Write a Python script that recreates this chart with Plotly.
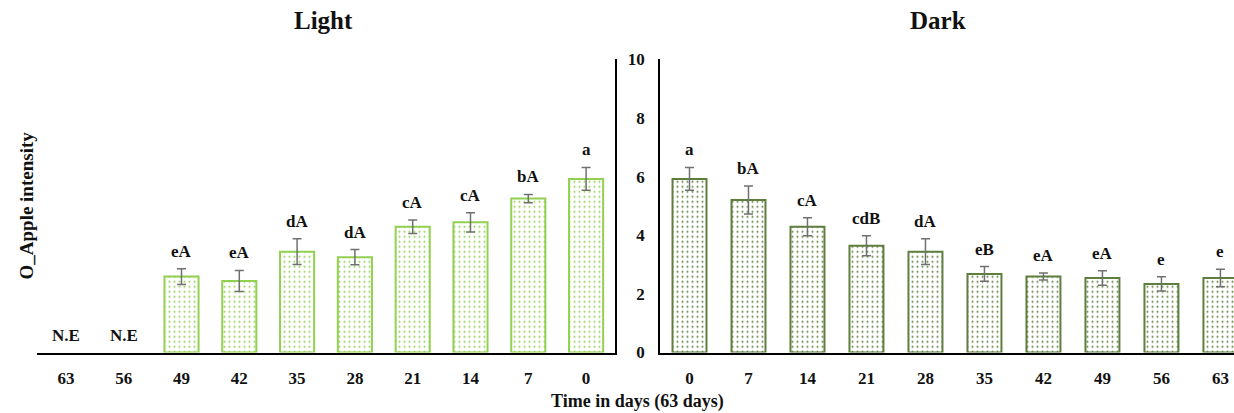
import plotly.graph_objects as go

# ---- data ----
light_days = ["63", "56", "49", "42", "35", "28", "21", "14", "7", "0"]
light_vals = [0, 0, 2.59, 2.44, 3.44, 3.25, 4.29, 4.44, 5.25, 5.92]
light_err = [0, 0, 0.27, 0.36, 0.44, 0.26, 0.23, 0.33, 0.14, 0.39]
light_labels = ["N.E", "N.E", "eA", "eA", "dA", "dA", "cA", "cA", "bA", "a"]

dark_days = ["0", "7", "14", "21", "28", "35", "42", "49", "56", "63"]
dark_vals = [5.92, 5.20, 4.29, 3.64, 3.44, 2.68, 2.59, 2.54, 2.34, 2.54]
dark_err = [0.39, 0.48, 0.31, 0.34, 0.44, 0.25, 0.12, 0.25, 0.24, 0.30]
dark_labels = ["a", "bA", "cA", "cdB", "dA", "eB", "eA", "eA", "e", "e"]

y_ticks = [0, 2, 4, 6, 8, 10]

W, H = 1234, 413
FONT = "Liberation Serif"
TXT = "#111111"
LIGHT = "#92D050"
DARK = "#5E7E3E"
ERR = "#707070"

def px_x(p):
    return p / W

def px_y(p):
    return 1 - p / H

y_dom = [px_y(352.5), px_y(59.3)]

fig = go.Figure()

fig.add_trace(go.Bar(
    x=light_days, y=light_vals, width=[0.59] * len(light_days),
    marker=dict(color="white",
                opacity=[1 if v > 0 else 0 for v in light_vals],
                line=dict(color=LIGHT, width=[2 if v > 0 else 0 for v in light_vals]),
                pattern=dict(shape=".", fgcolor=LIGHT, bgcolor="white", size=5, solidity=0.13)),
    xaxis="x", yaxis="y", showlegend=False, hoverinfo="skip"))

# error bars only where a value was measured
mask = [v > 0 for v in light_vals]
fig.add_trace(go.Scatter(
    x=[d for d, m in zip(light_days, mask) if m],
    y=[v for v, m in zip(light_vals, mask) if m],
    mode="markers", marker=dict(size=1, color="rgba(0,0,0,0)"),
    error_y=dict(type="data", array=[e for e, m in zip(light_err, mask) if m],
                 visible=True, color=ERR, thickness=1.5, width=4.5),
    xaxis="x", yaxis="y", showlegend=False, hoverinfo="skip"))

fig.add_trace(go.Bar(
    x=dark_days, y=dark_vals, width=[0.576] * len(dark_days),
    marker=dict(color="white", line=dict(color=DARK, width=2),
                pattern=dict(shape=".", fgcolor=DARK, bgcolor="white", size=5, solidity=0.13)),
    error_y=dict(type="data", array=dark_err, visible=True, color=ERR, thickness=1.5, width=4.5),
    xaxis="x2", yaxis="y2", showlegend=False, hoverinfo="skip"))

annotations = []
for i, (v, e, t) in enumerate(zip(light_vals, light_err, light_labels)):
    annotations.append(dict(x=i, y=v + e, xref="x", yref="y", text=t, showarrow=False,
                            yanchor="bottom", yshift=6,
                            font=dict(family=FONT, size=17, color=TXT, weight="bold")))
for i, (v, e, t) in enumerate(zip(dark_vals, dark_err, dark_labels)):
    annotations.append(dict(x=i, y=v + e, xref="x2", yref="y2", text=t, showarrow=False,
                            yanchor="bottom", yshift=6,
                            font=dict(family=FONT, size=17, color=TXT, weight="bold")))

annotations += [
    dict(x=px_x(323), y=px_y(21), xref="paper", yref="paper", text="Light", showarrow=False,
         xanchor="center", yanchor="middle", font=dict(family=FONT, size=25, color=TXT, weight="bold")),
    dict(x=px_x(938), y=px_y(21), xref="paper", yref="paper", text="Dark", showarrow=False,
         xanchor="center", yanchor="middle", font=dict(family=FONT, size=25, color=TXT, weight="bold")),
    dict(x=px_x(26), y=px_y(205.5), xref="paper", yref="paper", text="O_Apple intensity", showarrow=False,
         textangle=-90, xanchor="center", yanchor="middle",
         font=dict(family=FONT, size=19, color=TXT, weight="bold")),
    dict(x=px_x(637), y=px_y(401), xref="paper", yref="paper", text="Time in days (63 days)", showarrow=False,
         xanchor="center", yanchor="middle", font=dict(family=FONT, size=18, color=TXT, weight="bold")),
]

tickfont = dict(family=FONT, size=17, color=TXT, weight="bold")

fig.update_layout(
    template="none",
    width=W, height=H, margin=dict(l=0, r=0, t=0, b=0, pad=0, autoexpand=False),
    paper_bgcolor="white", plot_bgcolor="white",
    annotations=annotations,
    xaxis=dict(domain=[px_x(37), px_x(615)], type="category", range=[-0.5, 9.5], automargin=False,
               categoryorder="array", categoryarray=light_days,
               showline=True, linecolor="black", linewidth=1.5, showgrid=False, zeroline=False,
               ticks="outside", ticklen=9, tickcolor="rgba(0,0,0,0)", tickfont=tickfont,
               anchor="y"),
    yaxis=dict(domain=y_dom, range=[0, 10], side="right", anchor="x", automargin=False,
               showline=True, linecolor="black", linewidth=1.5, showgrid=False, zeroline=False,
               showticklabels=False, ticks=""),
    xaxis2=dict(domain=[px_x(660), 1.0], type="category", range=[-0.5, 9.23], automargin=False,
                categoryorder="array", categoryarray=dark_days,
                showline=True, linecolor="black", linewidth=1.5, showgrid=False, zeroline=False,
                ticks="outside", ticklen=9, tickcolor="rgba(0,0,0,0)", tickfont=tickfont,
                anchor="y2"),
    yaxis2=dict(domain=y_dom, range=[0, 10], anchor="x2", automargin=False,
                showline=True, linecolor="black", linewidth=1.5, showgrid=False, zeroline=False,
                tickmode="array", tickvals=y_ticks, ticktext=[str(t) for t in y_ticks],
                ticks="outside", ticklen=10, tickcolor="rgba(0,0,0,0)", tickfont=tickfont),
)

fig.write_html("out.html")
